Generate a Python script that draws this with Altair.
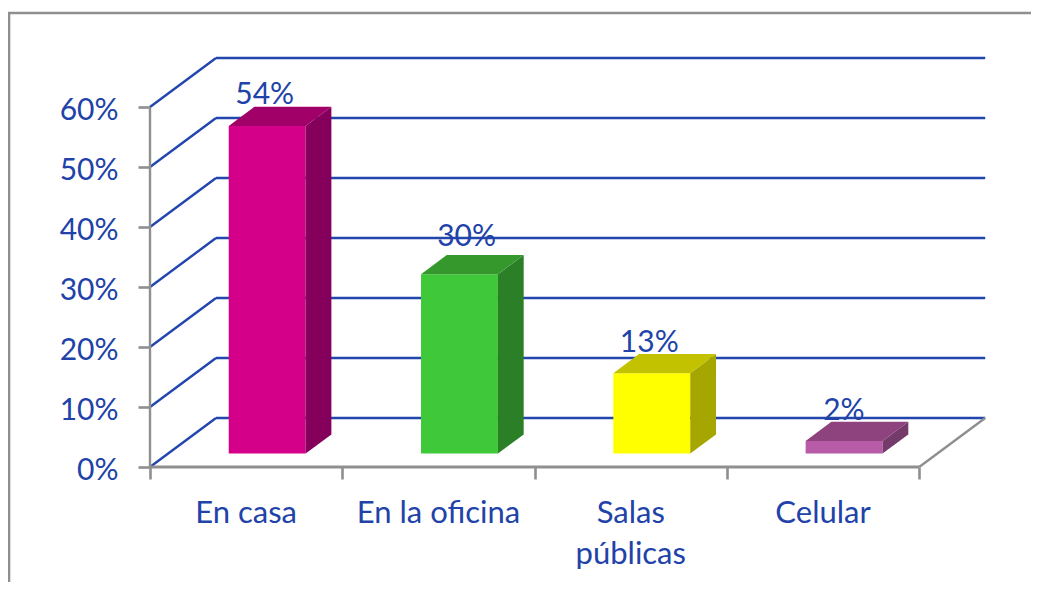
import altair as alt
import pandas as pd

categories = ["En casa", "En la oficina", "Salas\npúblicas", "Celular"]
labels = ["54%", "30%", "13%", "2%"]
values = [54.6, 29.9, 13.4, 2.1]
label_lift = [3.7, 4.7, 3.5, 3.5]
label_shift = [0.0, 0.05, 0.0, 0.012]
front = ["#D5008A", "#3FC93A", "#FFFF00", "#B85BA8"]
top = ["#A00068", "#34982C", "#C2C200", "#8F437E"]
side = ["#85005A", "#2B7F26", "#A6A600", "#743A6A"]
y_ticks = [0, 10, 20, 30, 40, 50, 60]
x_ticks = [0, 1, 2, 3, 4]

W, H = 1023, 574
X0, Y0 = 142, 459      # where value (0,0) falls in the plot area
UX, UY = 192.3, 6.0    # pixels per category / per percent
WALL_DX, WALL_DY = 66 / UX, 49 / UY
Z0, Z1 = 0.275, 0.665
BL, BR = 0.315, 0.715

xs = alt.Scale(domain=[-X0 / UX, (W - X0) / UX], range=[0, W], nice=False, zero=False)
ys = alt.Scale(domain=[-(H - Y0) / UY, Y0 / UY], range=[H, 0], nice=False, zero=False)
X = lambda **k: alt.X("x:Q", scale=xs, **k)
Y = lambda **k: alt.Y("y:Q", scale=ys, **k)

BLUE = "#2346AE"
TEXT = "#2142A8"
GRAY = "#8F8F8F"
FONT = "Lato"

# back wall grid lines + left wall diagonals
grid_rows, diag_rows = [], []
for t in y_ticks:
    grid_rows += [{"x": WALL_DX, "y": t + WALL_DY, "k": t}, {"x": 4 + WALL_DX, "y": t + WALL_DY, "k": t}]
    diag_rows += [{"x": 0, "y": t, "k": t}, {"x": WALL_DX, "y": t + WALL_DY, "k": t}]

axes_base = (
    alt.Chart(pd.DataFrame(diag_rows))
    .mark_line(color=BLUE, strokeWidth=2.4)
    .encode(
        x=X(axis=alt.Axis(values=x_ticks, orient="bottom", offset=Y0 - H, labels=False, title=None, grid=False,
                          domain=False, tickColor=GRAY, tickWidth=2.6, tickSize=12)),
        y=Y(axis=alt.Axis(values=y_ticks, orient="left", offset=-X0, title=None, grid=False, domain=False,
                          tickColor=GRAY, tickWidth=2.6, tickSize=12, labelExpr="datum.value + '%'",
                          labelFont=FONT, labelFontSize=30, labelColor=TEXT, labelPadding=20, labelOffset=3)),
        detail="k:N",
    )
)
grid = alt.Chart(pd.DataFrame(grid_rows)).mark_line(color=BLUE, strokeWidth=2.4).encode(x=X(), y=Y(), detail="k:N")

floor = alt.Chart(pd.DataFrame([{"x": 4, "y": 0}, {"x": 4 + WALL_DX, "y": WALL_DY}])).mark_line(
    color=GRAY, strokeWidth=2.4).encode(x=X(), y=Y())
base_line = alt.Chart(pd.DataFrame([{"x": 0, "y": 0}, {"x": 4, "y": 0}])).mark_line(
    color=GRAY, strokeWidth=2.8).encode(x=X(), y=Y())
y_line = alt.Chart(pd.DataFrame([{"x": 0, "y": 0}, {"x": 0, "y": 60}])).mark_line(
    color=GRAY, strokeWidth=2.4).encode(x=X(), y=Y())

# bar faces
front_rows, top_rows, side_rows = [], [], []
dx, dy = (Z1 - Z0) * WALL_DX, (Z1 - Z0) * WALL_DY
ox, oy = Z0 * WALL_DX, Z0 * WALL_DY
for i, v in enumerate(values):
    l, r = i + BL + ox, i + BR + ox
    b, t = oy, v + oy
    front_rows += [{"x": l, "y": b, "y2": t, "c": front[i]}, {"x": r, "y": b, "y2": t, "c": front[i]}]
    side_rows += [{"x": r, "y": b, "y2": t, "c": side[i]}, {"x": r + dx, "y": b + dy, "y2": t + dy, "c": side[i]}]
    top_rows += [
        {"x": l, "y": t, "y2": t, "c": top[i]},
        {"x": l + dx, "y": t, "y2": t + dy, "c": top[i]},
        {"x": r, "y": t, "y2": t + dy, "c": top[i]},
        {"x": r + dx, "y": t + dy, "y2": t + dy, "c": top[i]},
    ]


def faces(rows):
    return alt.Chart(pd.DataFrame(rows)).mark_area(interpolate="linear", opacity=1).encode(
        x=X(), y=Y(stack=None), y2="y2:Q",
        color=alt.Color("c:N", scale=None), detail="c:N",
    )


# data labels
lab_rows = [
    {"x": i + (BL + BR) / 2 + ox - 0.013 + label_shift[i], "y": v + oy + label_lift[i], "t": labels[i]}
    for i, v in enumerate(values)
]
value_labels = alt.Chart(pd.DataFrame(lab_rows)).mark_text(
    font=FONT, fontSize=30, color=TEXT, align="center", baseline="alphabetic"
).encode(x=X(), y=Y(), text="t:N")

cat_rows = [{"x": i + 0.5, "y": -9.4, "t": c} for i, c in enumerate(categories)]
cat_labels = alt.Chart(pd.DataFrame(cat_rows)).mark_text(
    font=FONT, fontSize=31, color=TEXT, align="center", baseline="alphabetic", lineBreak="\n", lineHeight=41
).encode(x=X(), y=Y(), text="t:N")

# picture frame
frame_top = alt.Chart(pd.DataFrame({"a": [0]})).mark_rule(color=GRAY, strokeWidth=2.6).encode(
    x=alt.value(0), x2=alt.value(W), y=alt.value(5))
frame_left = alt.Chart(pd.DataFrame({"a": [0]})).mark_rule(color=GRAY, strokeWidth=2.6).encode(
    x=alt.value(1), y=alt.value(5), y2=alt.value(H))

chart = (
    alt.layer(
        axes_base, grid, floor, y_line, base_line,
        faces(front_rows), faces(side_rows), faces(top_rows),
        value_labels, cat_labels, frame_top, frame_left,
    )
    .properties(width=W, height=H, padding=0, autosize=alt.AutoSizeParams(type="none"), background="white")
    .configure_view(stroke=None)
)

chart.save("out.html", embed_options={"renderer": "svg", "actions": False})
